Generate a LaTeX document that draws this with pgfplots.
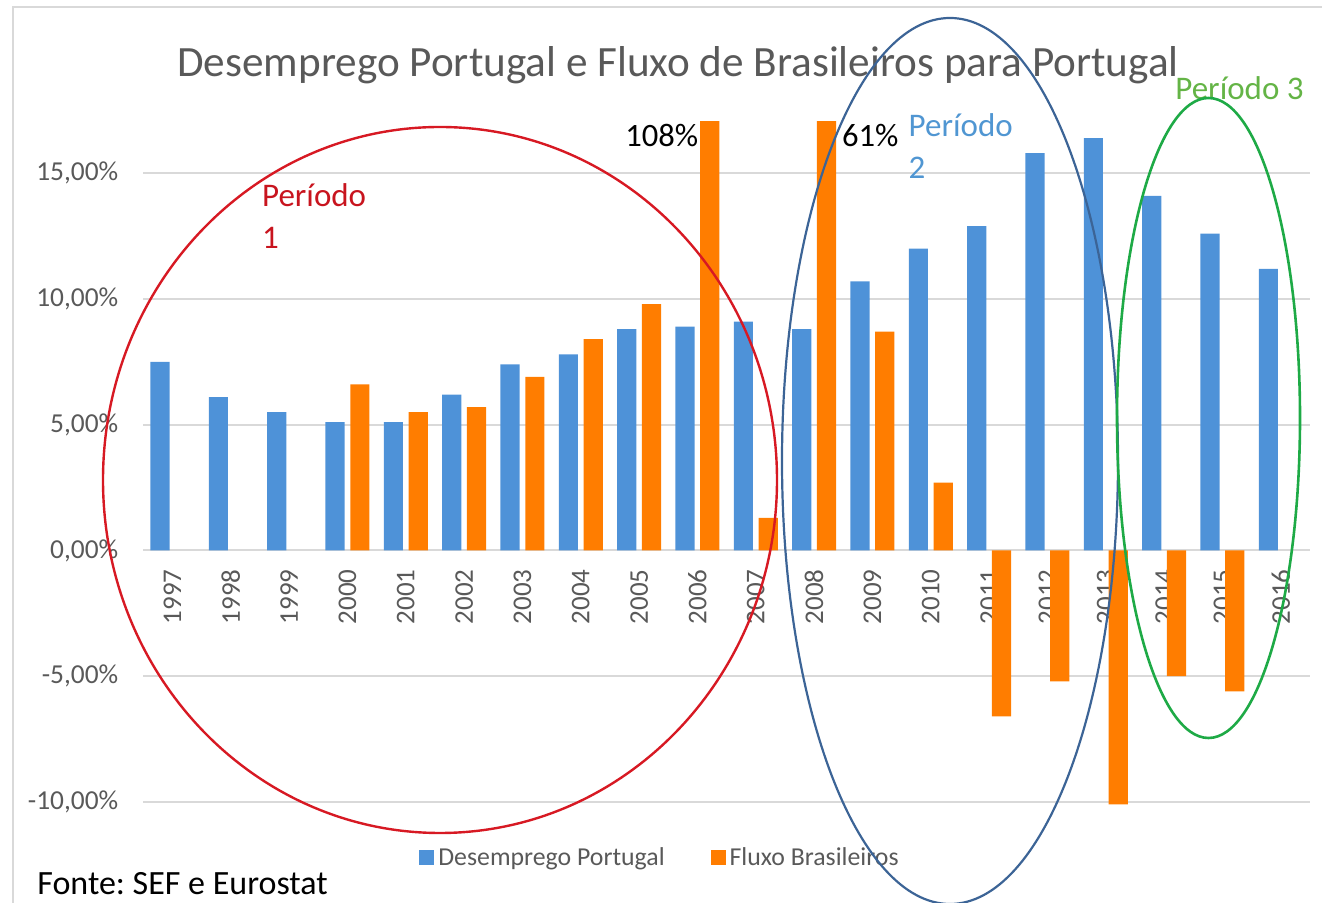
\documentclass[border=0pt]{standalone}
\usepackage{pgfplots}
\pgfplotsset{compat=1.18}
\usepackage{fontspec}
\setmainfont{Carlito}
\frenchspacing
\definecolor{barblue}{RGB}{78,146,216}
\definecolor{barorange}{RGB}{255,125,0}
\definecolor{gridgray}{RGB}{217,217,217}
\definecolor{textgray}{RGB}{89,89,89}
\definecolor{ellred}{RGB}{215,25,35}
\definecolor{txtred}{RGB}{200,20,30}
\definecolor{ellblue}{RGB}{60,100,150}
\definecolor{txtblue}{RGB}{80,150,210}
\definecolor{ellgreen}{RGB}{30,170,70}
\definecolor{txtgreen}{RGB}{100,180,70}
\begin{document}
\begin{tikzpicture}
\begin{axis}[
  at={(0,0)}, anchor=south west,
  x=29.165pt, y=12.575pt,
  xmin=-0.5, xmax=19.5, ymin=-10.1, ymax=17.05,
  axis x line*=middle, axis y line*=left,
  hide obscured x ticks=false, hide obscured y ticks=false,
  x axis line style={draw=gridgray, line width=1pt},
  y axis line style={draw=none},
  major tick length=0pt,
  ymajorgrids, grid style={gridgray, line width=1pt},
  xtick={0,...,19},
  xticklabels={1997,1998,1999,2000,2001,2002,2003,2004,2005,2006,2007,2008,2009,2010,2011,2012,2013,2014,2015,2016},
  xticklabel style={rotate=90, anchor=east, font=\fontsize{13.5}{16}\selectfont, text=textgray},
  xticklabel shift=6pt,
  ytick={-10,-5,0,5,10,15},
  yticklabels={{-10,00\%},{-5,00\%},{0,00\%},{5,00\%},{10,00\%},{15,00\%}},
  yticklabel style={font=\fontsize{13.7}{16}\selectfont, text=textgray},
  yticklabel shift=9pt,
  legend columns=2,
  legend style={at={(0.4438,-0.078)}, anchor=center, draw=none, fill=none,
    font=\fontsize{12.9}{15}\selectfont, text=textgray,
    /tikz/every even column/.append style={column sep=21pt}},
  legend image code/.code={\fill[#1] (0pt,-3.75pt) rectangle (7.5pt,3.75pt);},
]
\addplot[ybar, bar width=9.6pt, bar shift=-6.2pt, fill=barblue, draw=none] coordinates {
 (0,7.5) (1,6.1) (2,5.5) (3,5.1) (4,5.1) (5,6.2) (6,7.4) (7,7.8) (8,8.8) (9,8.9)
 (10,9.1) (11,8.8) (12,10.7) (13,12.0) (14,12.9) (15,15.8) (16,16.4) (17,14.1) (18,12.6) (19,11.2)};
\addlegendentry{Desemprego Portugal}
\addplot[ybar, bar width=9.6pt, bar shift=6.2pt, fill=barorange, draw=none] coordinates {
 (3,6.6) (4,5.5) (5,5.7) (6,6.9) (7,8.4) (8,9.8) (9,108) (10,1.3) (11,61) (12,8.7)
 (13,2.7) (14,-6.6) (15,-5.2) (16,-10.1) (17,-5.0) (18,-5.6)};
\addlegendentry{Fluxo Brasileiros}
\end{axis}
\begin{scope}[shift={(-71.65pt,402.25pt)}, x=0.5pt, y=-0.5pt]
\draw[gridgray, line width=1pt] (13,910) -- (13,7) -- (1330,7);
\node[anchor=base west, inner sep=0pt, text=textgray, font=\fontsize{21.6}{26}\selectfont] at (177,76.7) {Desemprego Portugal e Fluxo de Brasileiros para Portugal};
\node[anchor=base west, inner sep=0pt, text=txtred, font=\fontsize{16.5}{20}\selectfont] at (261.7,206.7) {Período};
\node[anchor=base west, inner sep=0pt, text=txtred, font=\fontsize{16.5}{20}\selectfont] at (261.7,248.3) {1};
\node[anchor=base west, inner sep=0pt, text=black, font=\fontsize{16.3}{20}\selectfont] at (625,146.7) {108\%};
\node[anchor=base west, inner sep=0pt, text=black, font=\fontsize{16.3}{20}\selectfont] at (841.7,146.7) {61\%};
\node[anchor=base west, inner sep=0pt, text=txtblue, font=\fontsize{16.5}{20}\selectfont] at (908.3,136.7) {Período};
\node[anchor=base west, inner sep=0pt, text=txtblue, font=\fontsize{16.5}{20}\selectfont] at (908.3,178.3) {2};
\node[anchor=base west, inner sep=0pt, text=txtgreen, font=\fontsize{16.5}{20}\selectfont] at (1175,100) {Período 3};
\node[anchor=base west, inner sep=0pt, text=black, font=\fontsize{17}{20}\selectfont] at (37,895) {Fonte: SEF e Eurostat};
\draw[ellred, line width=1.2pt] (440,480) ellipse [x radius=337, y radius=353];
\draw[ellblue, line width=1.1pt] (950,461) ellipse [x radius=168, y radius=443];
\draw[ellgreen, line width=1.3pt] (1208.5,418) ellipse [x radius=91.5, y radius=320];
\pgfresetboundingbox
\path (0,0) rectangle (1322,903);
\end{scope}
\end{tikzpicture}
\end{document}
